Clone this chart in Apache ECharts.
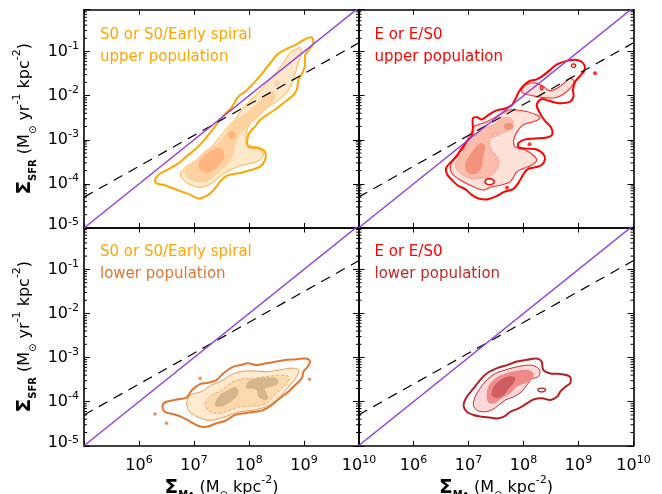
<!DOCTYPE html>
<html><head><meta charset="utf-8">
<script src="https://cdn.jsdelivr.net/npm/echarts@6/dist/echarts.min.js"></script>
<style>html,body{margin:0;padding:0;background:#fff}#c{width:662px;height:494px}</style>
</head><body><div id="c"></div>
<script>
// ---------- data (all values are log10) ----------
const xRange = [5, 10];
const yRange = [-5, -0.05];
const xTickExponents = [5, 6, 7, 8, 9, 10];
const yTickExponents = [-5, -4, -3, -2, -1];
const minorFactors = [2, 3, 4, 5, 6, 7, 8, 9];
const oneToOneLine = [[5, -5], [10, 0]];
const dashedRelation = [[5, -4.30], [10, -0.80]];
const noteLine1 = ['S0 or S0/Early spiral', 'E or E/S0', 'S0 or S0/Early spiral', 'E or E/S0'];
const noteLine2 = ['upper population', 'upper population', 'lower population', 'lower population'];

// S0 upper population contours
const s0UpperOuter = [[6.29,-3.91],[6.37,-3.78],[6.53,-3.67],[6.72,-3.53],[6.87,-3.37],[7.02,-3.22],[7.14,-3.07],[7.26,-2.89],[7.38,-2.70],[7.47,-2.55],[7.58,-2.40],[7.69,-2.26],[7.76,-2.10],[7.84,-1.98],[7.93,-1.91],[8.08,-1.72],[8.23,-1.51],[8.38,-1.27],[8.53,-1.05],[8.70,-0.93],[8.87,-0.83],[9.02,-0.72],[9.14,-0.68],[9.17,-0.80],[9.11,-0.93],[9.02,-1.08],[9.02,-1.30],[8.98,-1.46],[8.90,-1.64],[8.87,-1.86],[8.78,-2.02],[8.62,-2.17],[8.47,-2.32],[8.32,-2.44],[8.20,-2.55],[8.11,-2.70],[8.02,-2.82],[7.97,-2.97],[7.99,-3.16],[8.17,-3.19],[8.29,-3.27],[8.29,-3.46],[8.20,-3.61],[8.02,-3.69],[7.81,-3.76],[7.62,-3.80],[7.50,-3.91],[7.38,-4.10],[7.26,-4.25],[7.08,-4.33],[6.94,-4.25],[6.79,-4.18],[6.62,-4.10],[6.47,-4.03],[6.32,-3.99]];
const s0UpperL2 = [[6.75,-3.80],[6.82,-3.65],[6.96,-3.53],[7.11,-3.41],[7.24,-3.27],[7.36,-3.10],[7.47,-2.93],[7.56,-2.79],[7.66,-2.66],[7.75,-2.54],[7.82,-2.40],[7.93,-2.23],[8.05,-2.08],[8.20,-1.89],[8.32,-1.72],[8.44,-1.55],[8.55,-1.38],[8.64,-1.23],[8.73,-1.05],[8.84,-0.95],[8.93,-0.91],[8.95,-1.04],[8.90,-1.23],[8.86,-1.42],[8.81,-1.61],[8.76,-1.78],[8.67,-1.95],[8.53,-2.10],[8.38,-2.23],[8.23,-2.36],[8.09,-2.51],[7.99,-2.69],[7.95,-2.89],[7.95,-3.08],[8.05,-3.14],[8.20,-3.18],[8.26,-3.31],[8.22,-3.44],[8.08,-3.52],[7.90,-3.57],[7.72,-3.65],[7.56,-3.75],[7.41,-3.90],[7.26,-4.03],[7.10,-4.08],[6.96,-4.03],[6.84,-3.95]];
const s0UpperL3 = [[6.84,-3.76],[6.99,-3.53],[7.23,-3.23],[7.41,-3.12],[7.50,-3.01],[7.72,-2.63],[7.96,-2.40],[8.20,-2.14],[8.35,-1.95],[8.44,-1.91],[8.46,-2.06],[8.32,-2.29],[8.14,-2.51],[7.96,-2.70],[7.81,-2.89],[7.75,-3.08],[7.69,-3.35],[7.62,-3.53],[7.47,-3.69],[7.35,-3.84],[7.17,-3.95],[6.99,-3.91]];
const s0UpperL3Spot = [[8.46,-1.72],[8.48,-1.67],[8.53,-1.67],[8.55,-1.72],[8.53,-1.77],[8.48,-1.77]];
const s0UpperL4 = [[7.11,-3.69],[7.08,-3.53],[7.17,-3.38],[7.29,-3.27],[7.41,-3.19],[7.52,-3.22],[7.55,-3.38],[7.47,-3.57],[7.35,-3.69],[7.23,-3.76]];
const s0UpperL4Spot = [[7.61,-2.89],[7.65,-2.81],[7.72,-2.81],[7.76,-2.89],[7.72,-2.97],[7.65,-2.97]];

// E upper population contours
const eUpperOuter = [[6.59,-3.65],[6.67,-3.52],[6.78,-3.38],[6.86,-3.22],[6.97,-3.04],[7.06,-2.91],[7.08,-2.74],[7.08,-2.51],[7.16,-2.49],[7.24,-2.54],[7.36,-2.44],[7.50,-2.34],[7.67,-2.29],[7.79,-2.21],[7.85,-2.08],[7.90,-1.95],[7.97,-1.81],[8.09,-1.68],[8.24,-1.63],[8.35,-1.55],[8.48,-1.42],[8.61,-1.29],[8.79,-1.21],[8.97,-1.19],[9.09,-1.27],[9.11,-1.42],[9.03,-1.55],[8.94,-1.68],[8.90,-1.86],[8.91,-2.02],[8.84,-2.14],[8.64,-2.17],[8.45,-2.11],[8.32,-2.08],[8.24,-2.21],[8.30,-2.40],[8.39,-2.57],[8.50,-2.72],[8.52,-2.89],[8.42,-2.95],[8.21,-2.97],[8.03,-2.99],[7.91,-3.07],[7.91,-3.17],[8.06,-3.20],[8.24,-3.22],[8.35,-3.31],[8.39,-3.44],[8.33,-3.57],[8.19,-3.63],[8.07,-3.67],[7.99,-3.80],[7.91,-3.97],[7.81,-4.12],[7.65,-4.18],[7.52,-4.27],[7.35,-4.35],[7.18,-4.33],[7.06,-4.25],[6.94,-4.12],[6.80,-4.03],[6.69,-3.90],[6.61,-3.78]];
const eUpperL2 = [[7.06,-2.82],[7.09,-2.70],[7.33,-2.59],[7.61,-2.40],[7.76,-2.32],[8.06,-2.36],[8.24,-2.44],[8.30,-2.51],[8.18,-2.59],[8.00,-2.66],[7.88,-2.82],[7.82,-3.01],[7.85,-3.16],[8.03,-3.23],[8.18,-3.35],[8.24,-3.46],[8.15,-3.57],[8.00,-3.65],[7.88,-3.72],[7.82,-3.84],[7.76,-3.95],[7.58,-4.03],[7.39,-4.08],[7.27,-4.14],[7.03,-4.03],[6.85,-3.91],[6.70,-3.76],[6.67,-3.61],[6.76,-3.38],[6.91,-3.19],[6.97,-3.01]];
const eUpperL2Top = [[7.99,-1.81],[8.09,-1.72],[8.24,-1.72],[8.38,-1.81],[8.47,-1.89],[8.61,-1.83],[8.73,-1.72],[8.85,-1.61],[8.92,-1.67],[8.85,-1.83],[8.73,-1.96],[8.59,-2.04],[8.42,-2.05],[8.24,-2.02],[8.09,-1.98],[7.97,-1.91]];
const eUpperL3 = [[6.91,-3.23],[7.09,-2.97],[7.27,-2.74],[7.46,-2.66],[7.61,-2.51],[7.76,-2.51],[7.82,-2.63],[7.73,-2.78],[7.52,-2.89],[7.39,-3.01],[7.42,-3.23],[7.52,-3.38],[7.55,-3.57],[7.46,-3.76],[7.27,-3.87],[7.03,-3.87],[6.85,-3.76],[6.76,-3.57]];
const eUpperL3Spot = [[7.43,-2.88],[7.46,-2.84],[7.51,-2.84],[7.55,-2.88],[7.51,-2.92],[7.46,-2.92]];
const eUpperL4 = [[6.97,-3.46],[7.09,-3.23],[7.21,-3.08],[7.30,-3.12],[7.27,-3.38],[7.24,-3.61],[7.15,-3.76],[7.00,-3.76],[6.94,-3.61]];
const eUpperL4Spot = [[7.64,-2.70],[7.68,-2.63],[7.77,-2.63],[7.82,-2.70],[7.77,-2.77],[7.68,-2.77]];
const eUpperLoopA = [[7.30,-3.95],[7.34,-3.89],[7.42,-3.89],[7.47,-3.95],[7.42,-4.01],[7.34,-4.01]];
const eUpperLoopB = [[8.87,-1.32],[8.89,-1.285],[8.93,-1.285],[8.95,-1.32],[8.93,-1.355],[8.89,-1.355]];
const eUpperLoopC = [[8.31,-1.84],[8.32,-1.78],[8.345,-1.78],[8.355,-1.84],[8.33,-1.87]];
const eUpperDots = [[7.70,-4.085],[8.11,-3.10],[9.30,-1.49]];

// S0 lower population contours
const s0LowerOuter = [[6.43,-4.08],[6.50,-4.00],[6.69,-3.95],[6.87,-3.90],[6.96,-3.74],[7.11,-3.60],[7.26,-3.57],[7.41,-3.51],[7.53,-3.36],[7.69,-3.22],[7.84,-3.17],[7.99,-3.13],[8.14,-3.17],[8.32,-3.13],[8.50,-3.09],[8.69,-3.05],[8.87,-3.04],[9.04,-3.02],[9.11,-3.09],[9.06,-3.22],[8.99,-3.32],[8.96,-3.47],[8.84,-3.62],[8.72,-3.77],[8.56,-3.92],[8.41,-4.08],[8.26,-4.19],[8.11,-4.23],[7.93,-4.26],[7.75,-4.30],[7.59,-4.42],[7.41,-4.49],[7.23,-4.57],[7.08,-4.55],[6.93,-4.45],[6.78,-4.35],[6.62,-4.28],[6.47,-4.23]];
const s0LowerL2 = [[6.87,-4.00],[6.93,-3.85],[7.14,-3.77],[7.32,-3.62],[7.47,-3.55],[7.66,-3.40],[7.84,-3.32],[8.08,-3.30],[8.32,-3.32],[8.56,-3.28],[8.78,-3.24],[8.90,-3.28],[8.87,-3.43],[8.75,-3.62],[8.62,-3.81],[8.50,-3.96],[8.32,-4.11],[8.08,-4.19],[7.84,-4.23],[7.66,-4.30],[7.47,-4.38],[7.26,-4.42],[7.05,-4.34],[6.90,-4.19]];
const s0LowerL3 = [[7.20,-4.04],[7.32,-3.85],[7.50,-3.74],[7.66,-3.58],[7.84,-3.49],[8.08,-3.47],[8.32,-3.43],[8.56,-3.40],[8.72,-3.43],[8.69,-3.58],[8.56,-3.74],[8.44,-3.89],[8.32,-4.04],[8.08,-4.10],[7.84,-4.11],[7.66,-4.19],[7.47,-4.26],[7.29,-4.23]];
const s0LowerL4a = [[7.38,-4.04],[7.47,-3.85],[7.62,-3.74],[7.75,-3.66],[7.81,-3.77],[7.75,-3.92],[7.62,-4.04],[7.50,-4.11],[7.41,-4.11]];
const s0LowerL4b = [[7.96,-3.58],[8.08,-3.49],[8.32,-3.45],[8.50,-3.47],[8.53,-3.58],[8.41,-3.66],[8.29,-3.70],[8.32,-3.81],[8.35,-3.92],[8.26,-3.96],[8.17,-3.89],[8.14,-3.74],[8.05,-3.70],[7.96,-3.70]];
const s0LowerDots = [[7.11,-3.47],[6.29,-4.28],[6.50,-4.49],[9.10,-3.49]];

// E lower population contours
const eLowerOuter = [[6.91,-4.08],[6.97,-3.89],[7.09,-3.70],[7.21,-3.51],[7.33,-3.36],[7.52,-3.24],[7.70,-3.17],[7.88,-3.09],[8.06,-3.05],[8.24,-3.02],[8.33,-3.09],[8.36,-3.28],[8.49,-3.36],[8.67,-3.37],[8.84,-3.43],[8.85,-3.58],[8.76,-3.66],[8.67,-3.77],[8.61,-3.89],[8.49,-3.96],[8.33,-3.92],[8.18,-3.95],[8.06,-4.04],[7.91,-4.15],[7.76,-4.23],[7.64,-4.34],[7.52,-4.38],[7.39,-4.36],[7.24,-4.34],[7.09,-4.30],[6.97,-4.23]];
const eLowerL2 = [[7.09,-4.08],[7.12,-3.89],[7.21,-3.70],[7.33,-3.51],[7.49,-3.36],[7.67,-3.28],[7.88,-3.21],[8.09,-3.17],[8.24,-3.21],[8.30,-3.32],[8.27,-3.43],[8.15,-3.49],[8.06,-3.62],[7.97,-3.77],[7.82,-3.89],[7.67,-3.96],[7.55,-4.08],[7.42,-4.19],[7.27,-4.23],[7.15,-4.19]];
const eLowerL3 = [[7.33,-3.89],[7.36,-3.66],[7.49,-3.47],[7.67,-3.36],[7.88,-3.30],[8.09,-3.28],[8.18,-3.36],[8.15,-3.51],[8.03,-3.58],[7.88,-3.66],[7.76,-3.81],[7.61,-3.92],[7.46,-4.04],[7.36,-4.02]];
const eLowerL4 = [[7.42,-3.85],[7.46,-3.66],[7.58,-3.51],[7.73,-3.43],[7.85,-3.45],[7.82,-3.58],[7.73,-3.70],[7.64,-3.85],[7.52,-3.92]];
const eLowerLoop = [[8.26,-3.735],[8.29,-3.70],[8.37,-3.70],[8.40,-3.735],[8.37,-3.77],[8.29,-3.77]];

// ---------- styling / layout ----------
const FONT = 'DejaVu Sans';
const gridBoxes = [[84, 9.7], [358.5, 9.7], [84, 227.5], [358.5, 227.5]];
const GW = 275, GH = 218.3;
const purple = '#8C3BE6';

const tickRich = {
  b: {fontFamily: FONT, fontSize: 16, lineHeight: 22, verticalAlign: 'middle', color: '#000'},
  s: {fontFamily: FONT, fontSize: 11, lineHeight: 12, verticalAlign: 'top', color: '#000'},
  bp: {fontFamily: FONT, fontSize: 16, lineHeight: 22, verticalAlign: 'middle', color: '#000', padding: [0, 0, 6, 0]}
};
const nameRich = {
  sig: {fontFamily: FONT, fontSize: 20, fontWeight: 'bold', lineHeight: 26, verticalAlign: 'middle', color: '#000'},
  sub: {fontFamily: FONT, fontSize: 10, fontWeight: 'bold', lineHeight: 11, verticalAlign: 'bottom', color: '#000'},
  t: {fontFamily: FONT, fontSize: 16, lineHeight: 20, verticalAlign: 'middle', color: '#000'},
  sun: {fontFamily: FONT, fontSize: 10, lineHeight: 11, verticalAlign: 'bottom', color: '#000'},
  sup: {fontFamily: FONT, fontSize: 11, lineHeight: 12, verticalAlign: 'top', color: '#000'}
};
const yName = '{sig|Σ}{sub|SFR}{t| (M}{sun|⊙}{t| yr}{sup|-1}{t| kpc}{sup|-2}{t|)}';
const xName = '{sig|Σ}{sub|M•}{t| (M}{sun|⊙}{t| kpc}{sup|-2}{t|)}';

const isInt = v => Math.abs(v - Math.round(v)) < 1e-6;
const grids = [], xAxes = [], yAxes = [], series = [];
const frame = {onZero: false, lineStyle: {color: '#000', width: 1.6}};

gridBoxes.forEach((b, i) => {
  const row = i >> 1, col = i & 1;
  grids.push({left: b[0], top: b[1], width: GW, height: GH, containLabel: false, outerBoundsMode: 'none'});
  const xBase = {gridIndex: i, type: 'value', min: xRange[0], max: xRange[1], interval: 1,
    axisLine: frame, splitLine: {show: false},
    axisTick: {inside: true, length: 5, lineStyle: {color: '#000', width: 1}}};
  xAxes.push(Object.assign({}, xBase, {position: 'bottom',
    axisLabel: {show: row === 1, margin: 9, rich: tickRich,
      formatter: v => (isInt(v) && Math.round(v) !== xTickExponents[0]) ? '{b|10}{s|' + Math.round(v) + '}' : ''},
    name: row === 1 ? xName : '', nameLocation: 'middle', nameGap: 24, nameTextStyle: {rich: nameRich}}));
  xAxes.push(Object.assign({}, xBase, {position: 'top', axisLabel: {show: false}}));
  const yBase = {gridIndex: i, type: 'value', min: yRange[0], max: yRange[1], interval: 1,
    axisLine: frame, splitLine: {show: false},
    axisTick: {inside: true, length: 6, lineStyle: {color: '#000', width: 1}}};
  yAxes.push(Object.assign({}, yBase, {position: 'left',
    axisLabel: {show: col === 0, margin: 5, rich: tickRich,
      formatter: v => {
        if (!isInt(v)) return '';
        const n = Math.round(v);
        return n === yTickExponents[0] ? '{bp|10}{s|' + n + '}' : '{b|10}{s|' + n + '}';
      }},
    name: col === 0 ? yName : '', nameLocation: 'middle', nameRotate: 90, nameGap: 46, nameTextStyle: {rich: nameRich}}));
  yAxes.push(Object.assign({}, yBase, {position: 'right', axisLabel: {show: false}}));

  // log-spaced minor ticks on both y sides
  const minorVals = [];
  yTickExponents.forEach(d => minorFactors.forEach(f => {
    const v = d + Math.log10(f);
    if (v < yRange[1]) minorVals.push([xRange[0], v]);
  }));
  series.push({type: 'custom', xAxisIndex: 2 * i, yAxisIndex: 2 * i, silent: true, z: 10, clip: false,
    animation: false, data: minorVals,
    renderItem: (params, api) => {
      const v = api.value(1);
      const a = api.coord([xRange[0], v]), c = api.coord([xRange[1], v]);
      return {type: 'group', children: [
        {type: 'line', shape: {x1: a[0], y1: a[1], x2: a[0] + 3, y2: a[1]}, style: {stroke: '#000', lineWidth: 1}},
        {type: 'line', shape: {x1: c[0], y1: c[1], x2: c[0] - 3, y2: c[1]}, style: {stroke: '#000', lineWidth: 1}}
      ]};
    }});
  // reference lines
  series.push({type: 'line', xAxisIndex: 2 * i, yAxisIndex: 2 * i, data: dashedRelation, symbol: 'none',
    silent: true, animation: false, z: 6, lineStyle: {color: '#000', width: 1.2, type: [10, 7]}});
  series.push({type: 'line', xAxisIndex: 2 * i, yAxisIndex: 2 * i, data: oneToOneLine, symbol: 'none',
    silent: true, animation: false, z: 7, lineStyle: {color: purple, width: 1.4}});
});

function poly(gi, pts, st, z) {
  series.push({type: 'custom', xAxisIndex: 2 * gi, yAxisIndex: 2 * gi, silent: true, animation: false,
    z: z, clip: true, data: [pts[0]],
    renderItem: (params, api) => ({
      type: 'polygon',
      shape: {points: pts.map(p => api.coord(p)), smooth: st.smooth === undefined ? 0.35 : st.smooth},
      style: {fill: st.fill || 'none', stroke: st.stroke || 'none', lineWidth: st.lw || 0, lineDash: st.dash || null}
    })});
}
function dots(gi, pts, color, size) {
  series.push({type: 'scatter', xAxisIndex: 2 * gi, yAxisIndex: 2 * gi, data: pts, symbolSize: size,
    silent: true, animation: false, z: 5, itemStyle: {color: color}});
}

// panel 0: S0 upper
poly(0, s0UpperL2, {fill: '#FFE8CA', stroke: '#FFB443', lw: 1}, 2);
poly(0, s0UpperL3, {fill: '#FFD2A2', stroke: '#FFC485', lw: 0.8}, 3);
poly(0, s0UpperL3Spot, {fill: '#FFD2A2', stroke: '#FFC485', lw: 0.8}, 3);
poly(0, s0UpperL4, {fill: '#FFB57E'}, 4);
poly(0, s0UpperL4Spot, {fill: '#FFB57E'}, 4);
poly(0, s0UpperOuter, {stroke: '#FFA500', lw: 2}, 5);

// panel 1: E upper
poly(1, eUpperL2, {fill: '#FEE2D9', stroke: '#FF2A2A', lw: 1.1}, 2);
poly(1, eUpperL2Top, {fill: '#FEE2D9', stroke: '#FF2A2A', lw: 1.1}, 2);
poly(1, eUpperL3, {fill: '#FABDAA', stroke: '#F8A090', lw: 0.8}, 3);
poly(1, eUpperL3Spot, {fill: '#FABDAA', stroke: '#F8A090', lw: 0.8}, 3);
poly(1, eUpperL4, {fill: '#F4937D'}, 4);
poly(1, eUpperL4Spot, {fill: '#F4937D'}, 4);
poly(1, eUpperOuter, {stroke: '#FF0000', lw: 2}, 5);
poly(1, eUpperLoopA, {fill: '#FFFFFF', stroke: '#FF0000', lw: 1.5}, 5);
poly(1, eUpperLoopB, {stroke: '#FF0000', lw: 1.2}, 5);
poly(1, eUpperLoopC, {stroke: '#FF0000', lw: 1.2}, 5);
dots(1, eUpperDots, '#FF0000', 4);

// panel 2: S0 lower
poly(2, s0LowerL2, {fill: '#FEEBD2', stroke: '#E89A5C', lw: 1}, 2);
poly(2, s0LowerL3, {fill: '#FAD9AC', stroke: '#E2A673', lw: 0.9, dash: [3, 2]}, 3);
poly(2, s0LowerL4a, {fill: '#D8B48C'}, 4);
poly(2, s0LowerL4b, {fill: '#D8B48C'}, 4);
poly(2, s0LowerOuter, {stroke: '#E07530', lw: 2}, 5);
dots(2, s0LowerDots, '#E07530', 3.5);

// panel 3: E lower
poly(3, eLowerL2, {fill: '#FBD9D9', stroke: '#B83030', lw: 1}, 2);
poly(3, eLowerL3, {fill: '#EF8B8B'}, 3);
poly(3, eLowerL4, {fill: '#CE5E62'}, 4);
poly(3, eLowerOuter, {stroke: '#B22222', lw: 2}, 5);
poly(3, eLowerLoop, {stroke: '#B22222', lw: 1.3}, 5);

// panel notes
const noteColors1 = ['#FFA500', '#FF0000', '#FFA500', '#FF0000'];
const noteColors2 = ['#FFA500', '#FF0000', '#E07530', '#C02828'];
const graphics = [];
gridBoxes.forEach((b, i) => {
  graphics.push({type: 'text', x: b[0] + 16, y: b[1] + 25, silent: true,
    style: {text: noteLine1[i], fill: noteColors1[i], font: '15px "' + FONT + '"', verticalAlign: 'middle', align: 'left'}});
  graphics.push({type: 'text', x: b[0] + 16, y: b[1] + 47, silent: true,
    style: {text: noteLine2[i], fill: noteColors2[i], font: '15px "' + FONT + '"', verticalAlign: 'middle', align: 'left'}});
});

const chart = echarts.init(document.getElementById('c'), null, {renderer: 'canvas'});
chart.setOption({
  animation: false,
  backgroundColor: '#fff',
  grid: grids, xAxis: xAxes, yAxis: yAxes, series: series, graphic: graphics
});
</script></body></html>
